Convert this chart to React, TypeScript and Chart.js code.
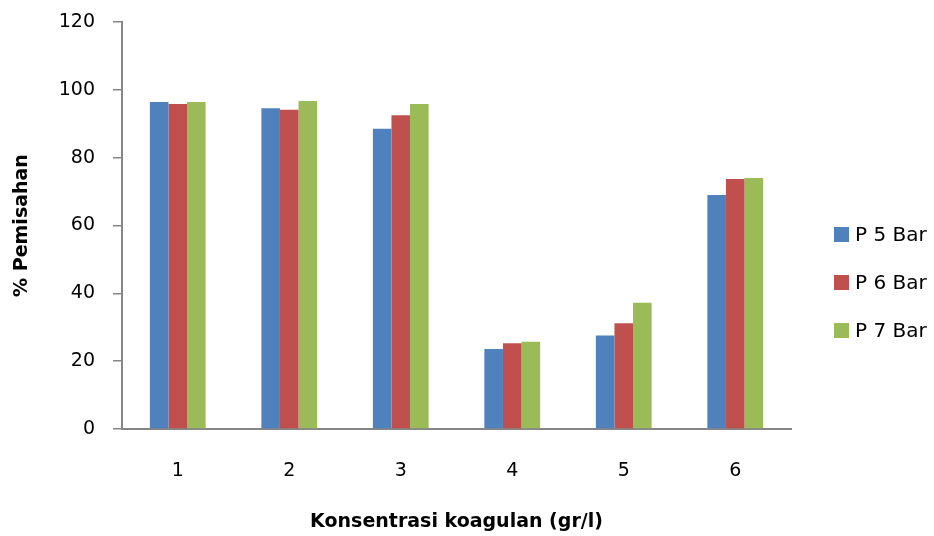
import React, { useEffect, useRef } from "react";
import { Chart, registerables } from "chart.js";

Chart.register(...registerables);

const categories = ["1", "2", "3", "4", "5", "6"];
const seriesNames = ["P 5 Bar", "P 6 Bar", "P 7 Bar"];
const p5Values = [96.4, 94.6, 88.5, 23.6, 27.6, 69.0];
const p6Values = [95.8, 94.1, 92.5, 25.3, 31.2, 73.7];
const p7Values = [96.4, 96.7, 95.8, 25.7, 37.2, 74.0];
const seriesColors = ["#4F81BD", "#C0504D", "#9BBB59"];
const yMin = 0;
const yMax = 120;
const yStep = 20;
const xTitle = "Konsentrasi koagulan (gr/l)";
const yTitle = "% Pemisahan";

const FONT = "'DejaVu Sans', sans-serif";
const AXIS_COLOR = "#868686";

const customLegend = {
  id: "customLegend",
  afterDraw(chart: any) {
    const ctx = chart.ctx;
    const area = chart.chartArea;
    const boxX = area.right + 43;
    const firstY = 234.5;
    const step = 48;
    const size = 15;
    ctx.save();
    ctx.font = `20px ${FONT}`;
    ctx.textBaseline = "middle";
    ctx.textAlign = "left";
    chart.data.datasets.forEach((ds: any, i: number) => {
      const cy = firstY + i * step;
      ctx.fillStyle = ds.backgroundColor;
      ctx.fillRect(boxX, cy - size / 2, size, size);
      ctx.fillStyle = "#000";
      ctx.fillText(ds.label, boxX + 21, cy + 1);
    });
    ctx.restore();
  },
};

export default function App() {
  const canvasRef = useRef<HTMLCanvasElement | null>(null);

  useEffect(() => {
    document.body.style.margin = "0";
    const canvas = canvasRef.current;
    if (!canvas) return;
    const values = [p5Values, p6Values, p7Values];
    const chart = new Chart(canvas, {
      type: "bar",
      data: {
        labels: categories,
        datasets: seriesNames.map((name, i) => ({
          label: name,
          data: values[i],
          backgroundColor: seriesColors[i],
          borderWidth: 0,
          barPercentage: 1.0,
          categoryPercentage: 0.5,
        })),
      },
      options: {
        responsive: false,
        animation: false,
        devicePixelRatio: 1,
        layout: { padding: { top: 22, right: 143, bottom: 0, left: 0 } },
        plugins: {
          legend: { display: false },
          tooltip: { enabled: false },
          title: { display: false },
        },
        scales: {
          x: {
            grid: { display: false, drawTicks: false },
            border: { display: true, color: AXIS_COLOR, width: 2 },
            ticks: { padding: 31, color: "#000", font: { family: FONT, size: 19 } },
            title: {
              display: true,
              text: xTitle,
              color: "#000",
              font: { family: FONT, size: 19, weight: "bold" },
              padding: { top: 0, bottom: 3 },
            },
            afterFit: (scale: any) => {
              scale.height = 107;
              scale.paddingLeft = 0;
              scale.paddingRight = 0;
            },
          },
          y: {
            min: yMin,
            max: yMax,
            ticks: {
              stepSize: yStep,
              padding: 18,
              color: "#000",
              font: { family: FONT, size: 19 },
            },
            grid: {
              display: true,
              drawOnChartArea: false,
              drawTicks: true,
              tickLength: 9,
              color: AXIS_COLOR,
              lineWidth: 1.5,
            },
            border: { display: true, color: AXIS_COLOR, width: 2 },
            title: {
              display: true,
              text: yTitle,
              color: "#000",
              font: { family: FONT, size: 19, weight: "bold" },
              padding: { top: 11, bottom: 0 },
            },
            afterFit: (scale: any) => {
              scale.width = 122;
              scale.paddingTop = 0;
              scale.paddingBottom = 0;
            },
          },
        },
      },
      plugins: [customLegend],
    });
    return () => chart.destroy();
  }, []);

  return (
    <div style={{ width: 934, height: 536, background: "#fff" }}>
      <canvas ref={canvasRef} width={934} height={536} style={{ display: "block" }} />
    </div>
  );
}
